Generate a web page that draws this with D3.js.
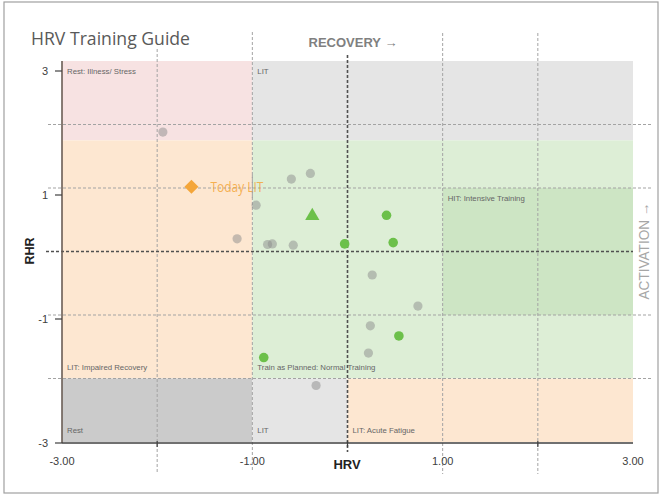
<!DOCTYPE html>
<html><head><meta charset="utf-8">
<script src="https://cdn.jsdelivr.net/npm/d3@7"></script>
<style>body{margin:0;background:#fff}svg{display:block}</style>
</head><body>
<svg id="c" width="663" height="499"></svg>
<script>
// ---- data ----
const xTickLabels = [-3, -1, 1, 3];
const xTickMarks = [-2, 0, 2];
const yTickLabels = [3, 1, -1, -3];
const gridX = [-2, -1, 1, 2];
const gridY = [2, 1, -1, -2];

const zoneNames = ["Rest: Illness/ Stress", "LIT", "LIT: Impaired Recovery", "Train as Planned: Normal Training", "HIT: Intensive Training", "Rest", "LIT", "LIT: Acute Fatigue"];
const zoneX0 = [-3, -1, -3, -1, 1, -3, -1, 0];
const zoneX1 = [-1, 3, -1, 3, 3, -1, 0, 3];
const zoneY0 = [1.75, 1.75, -2, -2, -1, -3, -3, -3];
const zoneY1 = [3, 3, 1.75, 1.75, 1, -2, -2, -2];
const zoneColors = ["#f7e2e2", "#e5e5e5", "#fde7d1", "#ddeed6", "#cde5c4", "#cbcbcb", "#e5e5e5", "#fde7d1"];
const zoneLabelPos = ["top", "top", "bottom", "bottom", "top", "bottom", "bottom", "bottom"];

const pastHRV = [-1.94, -0.59, -0.39, -0.96, -1.16, -0.84, -0.79, -0.57, 0.26, 0.74, 0.24, 0.22, -0.33];
const pastRHR = [1.88, 1.14, 1.23, 0.73, 0.20, 0.11, 0.12, 0.10, -0.37, -0.86, -1.17, -1.60, -2.11];
const hitHRV = [0.41, -0.03, 0.48, 0.54, -0.88];
const hitRHR = [0.57, 0.12, 0.14, -1.33, -1.67];
const avgHRV = [-0.37];
const avgRHR = [0.56];
const todayHRV = [-1.64];
const todayRHR = [1.02];
const todayLabel = "Today LIT";

// ---- drawing ----
const svg = d3.select("#c");
const x = d3.scaleLinear().domain([-3, 3]).range([62, 633]);
const y = d3.scaleLinear().domain([-3, 3]).range([442, 61]);
const yAx = d3.scaleLinear().domain([-3, 3]).range([443, 71]);

svg.append("rect").attr("x", 4).attr("y", 2).attr("width", 654).attr("height", 491)
  .attr("fill", "#fff").attr("stroke", "#a0a0a0").attr("stroke-width", 1.2);

// zones
const zones = zoneNames.map((n, i) => ({n, x0: zoneX0[i], x1: zoneX1[i], y0: zoneY0[i], y1: zoneY1[i], c: zoneColors[i], p: zoneLabelPos[i]}));
svg.selectAll("rect.zone").data(zones).join("rect").attr("class", "zone")
  .attr("x", d => x(d.x0)).attr("y", d => y(d.y1))
  .attr("width", d => x(d.x1) - x(d.x0)).attr("height", d => y(d.y0) - y(d.y1))
  .attr("fill", d => d.c);
svg.selectAll("text.zl").data(zones).join("text").attr("class", "zl")
  .attr("x", d => x(d.x0) + 5)
  .attr("y", d => d.p === "top" ? y(d.y1) + 13 : y(d.y0) - 9)
  .attr("font-family", "Liberation Sans, Arial, sans-serif").attr("font-size", 7.8)
  .attr("fill", "#666").text(d => d.n);

// grid
const gx = [[-2, 49, 474], [-1, 32, 470], [1, 33, 474], [2, 33, 474]];
svg.selectAll("line.gx").data(gridX).join("line").attr("class", "gx")
  .attr("x1", d => x(d)).attr("x2", d => x(d))
  .attr("y1", d => gx.find(g => g[0] === d)[1]).attr("y2", d => gx.find(g => g[0] === d)[2])
  .attr("stroke", "#a3a3a3").attr("stroke-dasharray", "3,2").attr("stroke-width", 1);
svg.selectAll("line.gy").data(gridY).join("line").attr("class", "gy")
  .attr("x1", 48).attr("x2", 652).attr("y1", d => y(d)).attr("y2", d => y(d))
  .attr("stroke", "#a3a3a3").attr("stroke-dasharray", "3,2").attr("stroke-width", 1);
svg.append("line").attr("x1", x(0)).attr("x2", x(0)).attr("y1", 55).attr("y2", 452)
  .attr("stroke", "#505050").attr("stroke-dasharray", "3,2").attr("stroke-width", 1.6);
svg.append("line").attr("x1", 46).attr("x2", 633).attr("y1", y(0)).attr("y2", y(0))
  .attr("stroke", "#505050").attr("stroke-dasharray", "3,2").attr("stroke-width", 1.6);

// axes
svg.append("line").attr("x1", 62).attr("x2", 62).attr("y1", 61).attr("y2", 443)
  .attr("stroke", "#6a5d55").attr("stroke-width", 1.6);
svg.append("line").attr("x1", 62).attr("x2", 633).attr("y1", 443).attr("y2", 443)
  .attr("stroke", "#404040").attr("stroke-width", 1.6);
svg.selectAll("line.xt").data(xTickMarks).join("line").attr("class", "xt")
  .attr("x1", d => x(d)).attr("x2", d => x(d)).attr("y1", 441).attr("y2", 447)
  .attr("stroke", "#404040").attr("stroke-width", 1.2);
svg.selectAll("text.xl").data(xTickLabels).join("text").attr("class", "xl")
  .attr("x", d => x(d)).attr("y", 465).attr("text-anchor", "middle")
  .attr("font-family", "Liberation Sans, Arial, sans-serif").attr("font-size", 11).attr("fill", "#404040")
  .text(d => d.toFixed(2));
svg.selectAll("line.yt").data(yTickLabels).join("line").attr("class", "yt")
  .attr("x1", 55).attr("x2", 62).attr("y1", d => yAx(d)).attr("y2", d => yAx(d))
  .attr("stroke", "#404040").attr("stroke-width", 1.2);
svg.selectAll("text.yl").data(yTickLabels).join("text").attr("class", "yl")
  .attr("x", 48).attr("y", d => yAx(d) + 4).attr("text-anchor", "end")
  .attr("font-family", "Liberation Sans, Arial, sans-serif").attr("font-size", 11).attr("fill", "#404040")
  .text(d => String(d));

// axis titles
svg.append("text").attr("x", 347).attr("y", 469).attr("text-anchor", "middle")
  .attr("font-family", "Liberation Sans, Arial, sans-serif").attr("font-size", 13).attr("font-weight", "bold")
  .attr("fill", "#222").text("HRV");
svg.append("text").attr("transform", "translate(34,251) rotate(-90)").attr("text-anchor", "middle")
  .attr("font-family", "Liberation Sans, Arial, sans-serif").attr("font-size", 12.5).attr("font-weight", "bold")
  .attr("fill", "#222").text("RHR");
svg.append("text").attr("x", 353).attr("y", 47).attr("text-anchor", "middle")
  .attr("font-family", "Liberation Sans, Arial, sans-serif").attr("font-size", 13).attr("font-weight", "bold")
  .attr("fill", "#808080").text("RECOVERY \u2192");
svg.append("text").attr("transform", "translate(649,251) rotate(-90)").attr("text-anchor", "middle")
  .attr("font-family", "Liberation Sans, Arial, sans-serif").attr("font-size", 14)
  .attr("textLength", 97).attr("lengthAdjust", "spacingAndGlyphs")
  .attr("fill", "#a6a6a6").text("ACTIVATION \u2192");
svg.append("text").attr("x", 31).attr("y", 45)
  .attr("font-family", "Open Sans, sans-serif").attr("font-size", 18.5)
  .attr("textLength", 159).attr("lengthAdjust", "spacingAndGlyphs")
  .attr("fill", "#595959").text("HRV Training Guide");

// points
const past = pastHRV.map((v, i) => ({x: v, y: pastRHR[i]}));
svg.selectAll("circle.past").data(past).join("circle").attr("class", "past")
  .attr("cx", d => x(d.x)).attr("cy", d => y(d.y)).attr("r", 4.6)
  .attr("fill", "#8c8c8c").attr("fill-opacity", 0.5);
const hit = hitHRV.map((v, i) => ({x: v, y: hitRHR[i]}));
svg.selectAll("circle.hit").data(hit).join("circle").attr("class", "hit")
  .attr("cx", d => x(d.x)).attr("cy", d => y(d.y)).attr("r", 4.8)
  .attr("fill", "#6cc04a");
const avg = avgHRV.map((v, i) => ({x: v, y: avgRHR[i]}));
svg.selectAll("path.avg").data(avg).join("path").attr("class", "avg")
  .attr("d", d3.symbol(d3.symbolTriangle, 88))
  .attr("transform", d => `translate(${x(d.x)},${y(d.y)})`).attr("fill", "#6cc04a");
const today = todayHRV.map((v, i) => ({x: v, y: todayRHR[i]}));
svg.selectAll("path.today").data(today).join("path").attr("class", "today")
  .attr("d", d3.symbol(d3.symbolSquare, 98))
  .attr("transform", d => `translate(${x(d.x)},${y(d.y)}) rotate(45)`).attr("fill", "#f4a63a");
svg.selectAll("text.today").data(today).join("text").attr("class", "today")
  .attr("x", d => x(d.x) + 19).attr("y", d => y(d.y) + 5)
  .attr("font-family", "Open Sans, sans-serif").attr("font-size", 14)
  .attr("textLength", 53).attr("lengthAdjust", "spacingAndGlyphs")
  .attr("fill", "#f4a63a").attr("fill-opacity", 0.85).text(todayLabel);

// redraw the x=-1 grid line over the today label (as in reference)
svg.append("line").attr("x1", x(-1)).attr("x2", x(-1)).attr("y1", 175).attr("y2", 200)
  .attr("stroke", "#a3a3a3").attr("stroke-dasharray", "3,2").attr("stroke-width", 1);
</script>
</body></html>
